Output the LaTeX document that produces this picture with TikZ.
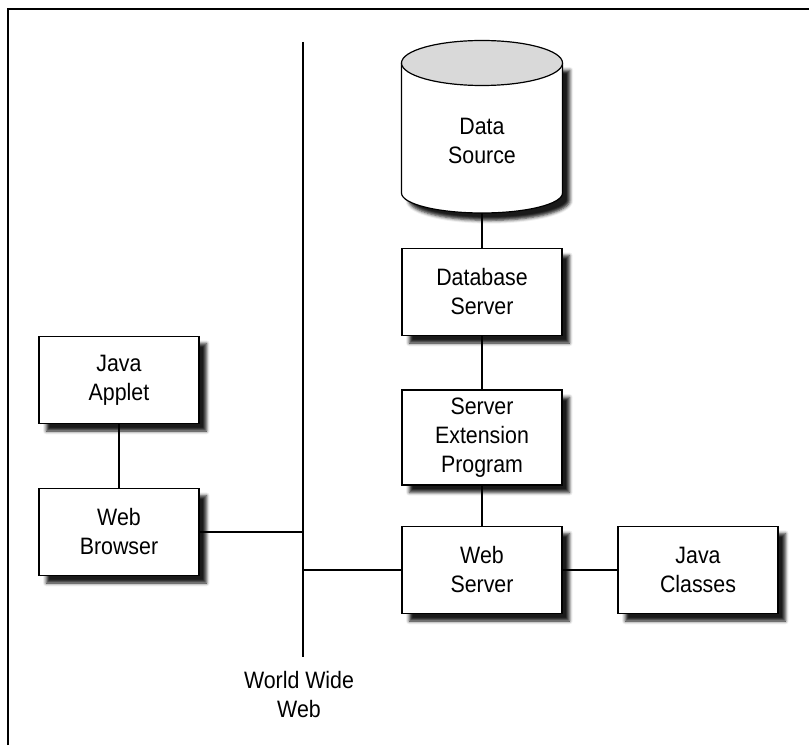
\documentclass[tikz,border=0pt]{standalone}
\usepackage{fontspec}
\setmainfont{Liberation Sans}[FakeStretch=0.9]
\usepackage{xcolor}
\usetikzlibrary{shadows.blur,positioning}
\tikzset{
  sombra/.style={blur shadow={shadow xshift=5.5pt,shadow yshift=-5.5pt,shadow blur radius=2.5pt,shadow opacity=90}},
  texto/.style={align=center,inner sep=0pt,font=\fontsize{17.8pt}{21.75pt}\selectfont},
  caja/.style={texto,draw=black,fill=white,line width=0.9pt,minimum width=120pt,minimum height=65.5pt,sombra},
  enlace/.style={black,line width=0.8pt},
  marco/.style={black,line width=1.4pt}
}
\begin{document}
\begin{tikzpicture}[x=0.75pt,y=-0.75pt]
\useasboundingbox (0,0) rectangle (809,745);
\draw[marco] (8,745)--(8,9)--(809,9);
\path[fill=white,sombra] (401.5,63)--(401.5,193) arc[start angle=180,end angle=0,x radius=80.5,y radius=20]--(562.5,63)--cycle;
\draw[line width=0.9pt] (401.5,63)--(401.5,193) arc[start angle=180,end angle=0,x radius=80.5,y radius=20]--(562.5,63);
\draw[line width=0.9pt,fill=gray!30] (482,63) ellipse[x radius=80.5,y radius=22.5];
\node[texto] (fuente) at (482,141) {Data\\Source};
\coordinate (fuentebase) at (482,213);
\node[caja] (applet) at (119,380) {Java\\Applet};
\node[caja] (navegador) at (119,532) {Web\\Browser};
\node[caja] (bdserver) at (482,292) {Database\\Server};
\node[caja,minimum height=71.25pt] (extension) at (482,437.5) {Server\\Extension\\Program};
\node[caja] (webserver) at (482,570) {Web\\Server};
\node[caja] (clases) at (698,570) {Java\\Classes};
\coordinate (wwwarriba) at (303,42);
\coordinate (wwwabajo) at (303,657);
\node[texto] (wwwtexto) at (299,695) {World Wide\\Web};
\draw[enlace] (wwwarriba)--(wwwabajo);
\draw[enlace] (fuentebase)--(bdserver.north);
\draw[enlace] (bdserver.south)--(extension.north);
\draw[enlace] (extension.south)--(webserver.north);
\draw[enlace] (applet.south)--(navegador.north);
\draw[enlace] (navegador.east)--(navegador.east -| wwwarriba);
\draw[enlace] (webserver.west -| wwwarriba)--(webserver.west);
\draw[enlace] (webserver.east)--(clases.west);
\end{tikzpicture}
\end{document}
